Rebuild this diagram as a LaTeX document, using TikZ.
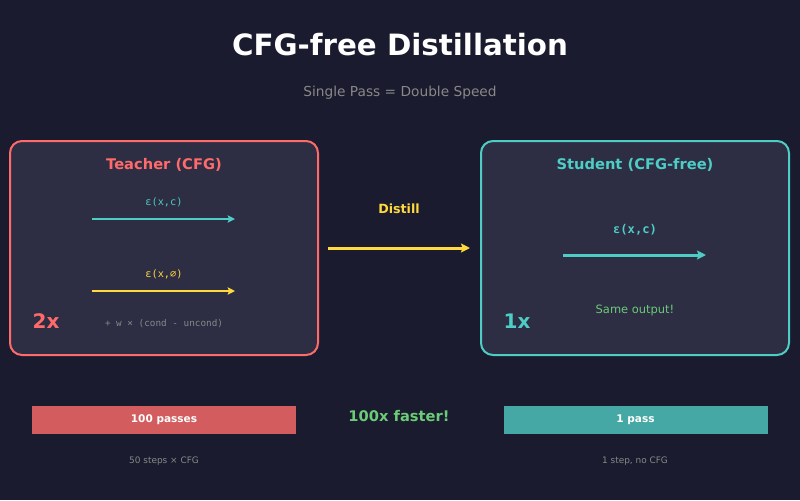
\documentclass[tikz,border=0pt]{standalone}
\usepackage{fontspec}
\setmainfont{DejaVu Sans}
\setmonofont{DejaVu Sans Mono}
\usetikzlibrary{arrows.meta}

\definecolor{bgdark}{RGB}{26,27,46}
\definecolor{boxfill}{RGB}{45,45,68}
\definecolor{cfgred}{RGB}{255,107,107}
\definecolor{barred}{RGB}{210,92,94}
\definecolor{cfgteal}{RGB}{78,205,196}
\definecolor{barteal}{RGB}{69,168,165}
\definecolor{cfgyellow}{RGB}{255,217,61}
\definecolor{cfggreen}{RGB}{107,203,119}
\definecolor{cfggray}{RGB}{136,136,136}

\begin{document}
\begin{tikzpicture}[x=0.75pt,y=-0.75pt,
  thinarrow/.style={-{Stealth[length=5.5pt,width=5.5pt,inset=1pt]},line width=1.5pt},
  thickarrow/.style={-{Stealth[length=6.75pt,width=6.75pt,inset=1.2pt]},line width=2.25pt},
  panel/.style={draw,line width=1.5pt,rounded corners=9pt,fill=boxfill,
    minimum width=231pt,minimum height=160.5pt},
  bar/.style={minimum width=198pt,minimum height=21pt,inner sep=0pt,
    text=white,font=\fontsize{7.9}{9}\selectfont\bfseries},
  small/.style={font=\fontsize{6.7}{8}\selectfont,text=cfggray}]

  % Hintergrund
  \fill[bgdark] (0,0) rectangle (800,500);

  % Titel
  \node (title) at (400,45) [text=white,font=\fontsize{22}{26}\selectfont\bfseries] {CFG-free Distillation};
  \node (subtitle) at (400,93) [text=cfggray,font=\fontsize{10.3}{12}\selectfont] {Single Pass = Double Speed};

  % Lehrer (mit CFG)
  \node[panel,draw=cfgred] (teacher) at (164,248) {};
  \node (teachertitle) at (164,165) [text=cfgred,font=\fontsize{11}{13}\selectfont\bfseries] {Teacher (CFG)};
  \node (condlabel) at (164,202) [text=cfgteal,font=\fontsize{7.7}{9}\selectfont\ttfamily] {ε(x,c)};
  \coordinate (conda) at (92,219);
  \coordinate (condb) at (235,219);
  \draw[thinarrow,cfgteal] (conda) -- (condb);
  \node (uncondlabel) at (164,274) [text=cfgyellow,font=\fontsize{7.7}{9}\selectfont\ttfamily] {ε(x,∅)};
  \coordinate (uncona) at (92,291);
  \coordinate (unconb) at (235,291);
  \draw[thinarrow,cfgyellow] (uncona) -- (unconb);
  \node (guidance) at (164,324) [text=cfggray,font=\fontsize{7}{8}\selectfont\ttfamily] {+ w × (cond - uncond)};
  \node (twox) at (46,321) [text=cfgred,font=\fontsize{15}{18}\selectfont\bfseries] {2x};

  % Schueler (ohne CFG)
  \node[panel,draw=cfgteal] (student) at (635,248) {};
  \node (studenttitle) at (635,165) [text=cfgteal,font=\fontsize{11}{13}\selectfont\bfseries] {Student (CFG-free)};
  \node (studlabel) at (635,230) [text=cfgteal,font=\fontsize{9.1}{11}\selectfont\ttfamily\bfseries] {ε(x,c)};
  \coordinate (studa) at (563,255);
  \coordinate (studb) at (706,255);
  \draw[thickarrow,cfgteal] (studa) -- (studb);
  \node (same) at (635,310) [text=cfggreen,font=\fontsize{8.6}{10}\selectfont] {Same output!};
  \node (onex) at (517,321) [text=cfgteal,font=\fontsize{15}{18}\selectfont\bfseries] {1x};

  % Destillation
  \node (distill) at (399,209) [text=cfgyellow,font=\fontsize{9.5}{11}\selectfont\bfseries] {Distill};
  \draw[thickarrow,cfgyellow] ([xshift=6.75pt]teacher.east) -- ([xshift=-7.5pt]student.west);

  % Balken
  \node[bar,fill=barred] (slowbar) at (164,420) {100 passes};
  \node[small] (slownote) at (164,461) {50 steps × CFG};
  \node[bar,fill=barteal] (fastbar) at (635.5,420) {1 pass};
  \node[small] (fastnote) at (635,461) {1 step, no CFG};
  \node (faster) at (399,416) [text=cfggreen,font=\fontsize{11}{13}\selectfont\bfseries] {100x faster!};

\end{tikzpicture}
\end{document}
